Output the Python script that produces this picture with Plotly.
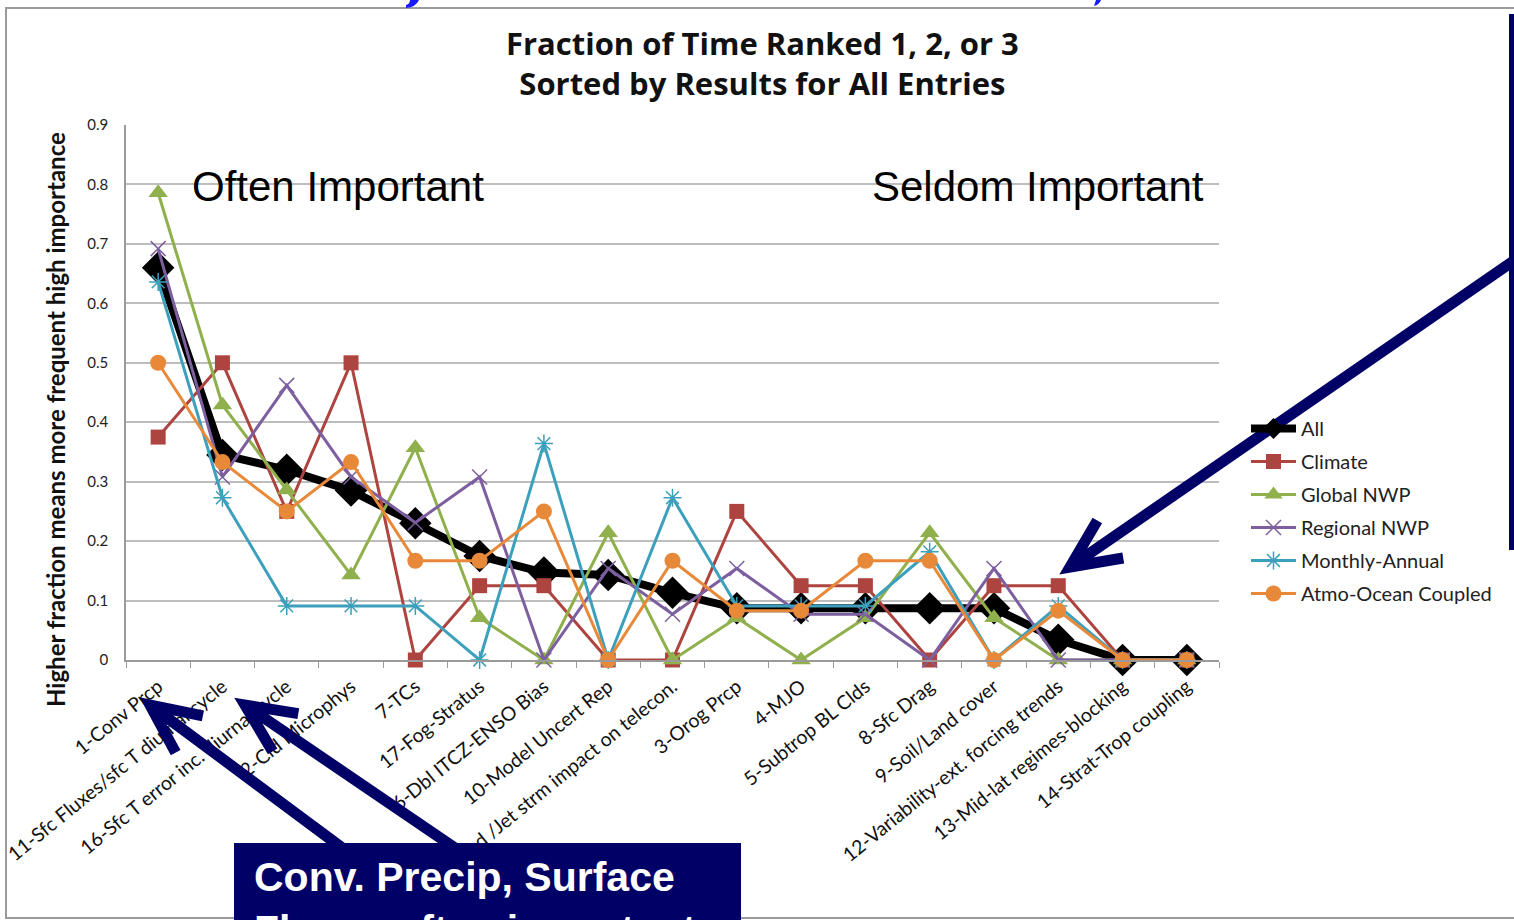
import math
import plotly.graph_objects as go

# ---- data -------------------------------------------------------------
categories = [
    "1-Conv Prcp",
    "11-Sfc Fluxes/sfc T diurnal cycle",
    "16-Sfc T error inc. diurnal cycle",
    "2-Cld Microphys",
    "7-TCs",
    "17-Fog-Stratus",
    "6-Dbl ITCZ-ENSO Bias",
    "10-Model Uncert Rep",
    "15-Wind /Jet strm impact on telecon.",
    "3-Orog Prcp",
    "4-MJO",
    "5-Subtrop BL Clds",
    "8-Sfc Drag",
    "9-Soil/Land cover",
    "12-Variability-ext. forcing trends",
    "13-Mid-lat regimes-blocking",
    "14-Strat-Trop coupling",
]

all_entries = [0.66, 0.345, 0.32, 0.285, 0.23, 0.175, 0.147, 0.143, 0.113,
               0.087, 0.087, 0.087, 0.087, 0.087, 0.034, 0.0, 0.0]
climate = [0.375, 0.5, 0.25, 0.5, 0.0, 0.125, 0.125, 0.0, 0.0,
           0.25, 0.125, 0.125, 0.0, 0.125, 0.125, 0.0, 0.0]
global_nwp = [0.786, 0.429, 0.286, 0.143, 0.357, 0.071, 0.0, 0.214, 0.0,
              0.071, 0.0, 0.071, 0.214, 0.071, 0.0, 0.0, 0.0]
regional_nwp = [0.692, 0.308, 0.462, 0.308, 0.231, 0.308, 0.0, 0.154, 0.077,
                0.154, 0.077, 0.077, 0.0, 0.154, 0.0, 0.0, 0.0]
monthly_annual = [0.636, 0.273, 0.091, 0.091, 0.091, 0.0, 0.364, 0.0, 0.273,
                  0.091, 0.091, 0.091, 0.182, 0.0, 0.091, 0.0, 0.0]
atmo_ocean = [0.5, 0.333, 0.25, 0.333, 0.167, 0.167, 0.25, 0.0, 0.167,
              0.083, 0.083, 0.167, 0.167, 0.0, 0.083, 0.0, 0.0]

series_names = ["All", "Climate", "Global NWP", "Regional NWP",
                "Monthly-Annual", "Atmo-Ocean Coupled"]

# ---- page geometry ----------------------------------------------------
W, H = 1514, 920
L, R, T, B = 126, 1219, 125, 660          # plot-area edges in pixels
NAVY = "#000066"


def px(x):
    return (x - L) / (R - L)


def py(y):
    return (B - y) / (B - T)


fig = go.Figure()

styles = [
    dict(color="#000000", width=8, symbol="diamond", size=25, lw=0),
    dict(color="#AE4440", width=3, symbol="square", size=15, lw=0),
    dict(color="#8FB04C", width=3, symbol="triangle-up", size=17, lw=0),
    dict(color="#7D5FA0", width=3, symbol="x-thin-open", size=15, lw=1.5),
    dict(color="#3CA0BC", width=3, symbol="asterisk-open", size=15, lw=1.5),
    dict(color="#E8893A", width=3, symbol="circle", size=16, lw=0),
]
values = [all_entries, climate, global_nwp, regional_nwp, monthly_annual, atmo_ocean]

for name, vals, st in zip(series_names, values, styles):
    fig.add_trace(go.Scatter(
        x=categories, y=vals, name=name, mode="lines+markers",
        legendgroup=name, cliponaxis=False,
        line=dict(color=st["color"], width=st["width"]),
        marker=dict(symbol=st["symbol"], size=st["size"], color=st["color"],
                    line=dict(color=st["color"], width=st["lw"])),
    ))

# ---- decorations: arrows, callout box, frame --------------------------
shapes = []


def arrow(x0, y0, x1, y1, head=54, spread=25, width=11):
    ang = math.atan2(y0 - y1, x0 - x1)
    pts = []
    for s in (-1, 1):
        a = ang + s * math.radians(spread)
        pts.append((x1 + head * math.cos(a), y1 + head * math.sin(a)))
    path = (f"M {px(x0)},{py(y0)} L {px(x1)},{py(y1)} "
            f"M {px(pts[0][0])},{py(pts[0][1])} L {px(x1)},{py(y1)} "
            f"L {px(pts[1][0])},{py(pts[1][1])}")
    shapes.append(dict(type="path", xref="paper", yref="paper", path=path,
                       line=dict(color=NAVY, width=width), layer="above"))


# outer chart frame
shapes.append(dict(type="rect", xref="paper", yref="paper",
                   x0=px(6), x1=px(1540), y0=py(918), y1=py(8),
                   line=dict(color="#9a9a9a", width=2), layer="below"))
# navy bar on the right edge
shapes.append(dict(type="rect", xref="paper", yref="paper",
                   x0=px(1509), x1=px(1516), y0=py(550), y1=py(14),
                   fillcolor=NAVY, line=dict(width=0), layer="above"))

arrow(1512, 262, 1070, 567)
arrow(345, 850, 150, 705)
arrow(458, 850, 245, 705)

# callout box
shapes.append(dict(type="rect", xref="paper", yref="paper",
                   x0=px(234), x1=px(741), y0=py(930), y1=py(843),
                   fillcolor=NAVY, line=dict(width=0), layer="above"))

# blue descenders from the slide heading above
shapes.append(dict(type="path", xref="paper", yref="paper",
                   path=(f"M {px(410)},{py(0)} L {px(419)},{py(0)} "
                         f"Q {px(416)},{py(7)} {px(406)},{py(8)} "
                         f"L {px(406)},{py(5)} Q {px(410)},{py(4)} {px(410)},{py(0)} Z"),
                   fillcolor="#1a1aff", line=dict(width=0), layer="above"))
shapes.append(dict(type="path", xref="paper", yref="paper",
                   path=(f"M {px(1096)},{py(0)} L {px(1101)},{py(0)} "
                         f"Q {px(1099)},{py(5)} {px(1094)},{py(6)} Z"),
                   fillcolor="#1a1aff", line=dict(width=0), layer="above"))

annotations = [
    dict(text="<b>Fraction of Time Ranked 1, 2, or 3<br>Sorted by Results for All Entries</b>",
         x=px(762), y=py(63), xref="paper", yref="paper", showarrow=False,
         yanchor="middle", align="center",
         font=dict(family="Open Sans", size=31, color="#111")),
    dict(text="<b>Higher fraction means more frequent high importance</b>",
         x=px(55), y=py(420), xref="paper", yref="paper", showarrow=False,
         xanchor="center", yanchor="middle",
         textangle=-90, font=dict(family="Lato", size=24, color="#111")),
    dict(text="Often Important", x=px(190), y=py(186), xanchor="left",
         yanchor="middle", xref="paper", yref="paper", showarrow=False,
         font=dict(family="Liberation Sans", size=42, color="#000")),
    dict(text="Seldom Important", x=px(1206), y=py(186), xanchor="right",
         yanchor="middle", xref="paper", yref="paper", showarrow=False,
         font=dict(family="Liberation Sans", size=42, color="#000")),
    dict(text="<b>Conv. Precip, Surface<br>Fluxes often important</b>",
         x=px(252), y=py(852), xanchor="left", yanchor="top", align="left",
         xref="paper", yref="paper", showarrow=False,
         font=dict(family="Liberation Sans", size=41, color="#ffffff")),
]

fig.update_layout(
    width=W, height=H, autosize=False,
    margin=dict(l=L, r=W - R, t=T, b=H - B),
    paper_bgcolor="white", plot_bgcolor="white",
    showlegend=True,
    legend=dict(x=px(1246), y=py(409), xanchor="left", yanchor="top",
                font=dict(family="Lato", size=20, color="#222"),
                tracegroupgap=4, itemwidth=45, bgcolor="rgba(0,0,0,0)"),
    shapes=shapes, annotations=annotations,
    xaxis=dict(type="category", range=[-0.5, len(categories) - 0.5],
               automargin=False, tickson="boundaries", ticks="outside",
               ticklen=6, tickcolor="#9a9a9a", showline=True,
               linecolor="#9a9a9a", linewidth=1.5, showgrid=False,
               ticklabelstandoff=6, tickangle=-39,
               tickfont=dict(family="Lato", size=19.5, color="#111")),
    yaxis=dict(range=[0, 0.9], dtick=0.1, showgrid=True, gridcolor="#bdbdbd",
               gridwidth=1.5, showline=True, linecolor="#9a9a9a", linewidth=1.5,
               zeroline=False, ticks="", ticklabelstandoff=13, automargin=False,
               tickfont=dict(family="Lato", size=15, color="#222")),
)

fig.write_html("out.html")
